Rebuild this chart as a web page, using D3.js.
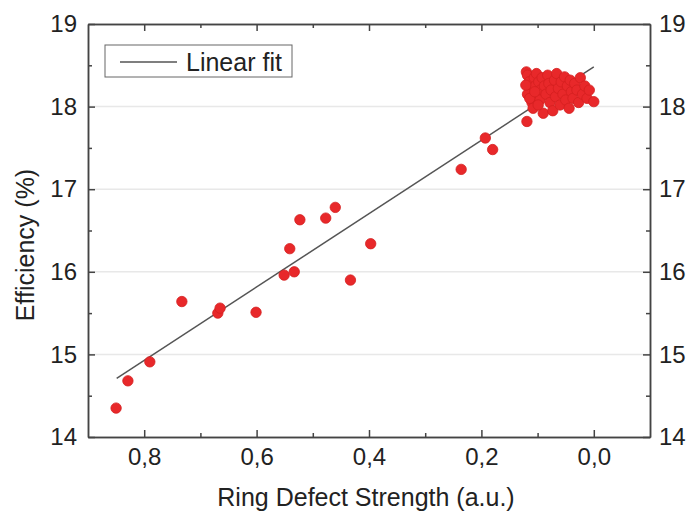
<!DOCTYPE html>
<html>
<head>
<meta charset="utf-8">
<script src="https://cdn.jsdelivr.net/npm/d3@7/dist/d3.min.js"></script>
<style>
  html, body { margin: 0; padding: 0; background: #fff; }
  svg { display: block; }
  text { font-family: "Liberation Sans", Arial, sans-serif; fill: #222; }
</style>
</head>
<body>
<svg id="chart" width="691" height="512"></svg>
<script>
// ---- data ----
const defectStrength = [
  0.850, 0.829, 0.790, 0.733, 0.669, 0.665, 0.601, 0.551, 0.533, 0.541,
  0.523, 0.477, 0.460, 0.433, 0.397, 0.236, 0.193, 0.180, 0.119,
  0.120, 0.118, 0.115, 0.112, 0.118, 0.110, 0.106, 0.104, 0.100, 0.108,
  0.102, 0.098, 0.095, 0.092, 0.096, 0.090, 0.088, 0.085, 0.082, 0.080,
  0.078, 0.076, 0.073, 0.070, 0.068, 0.066, 0.063, 0.060, 0.058, 0.055,
  0.052, 0.050, 0.047, 0.044, 0.042, 0.040, 0.037, 0.034, 0.030, 0.027,
  0.024, 0.020, 0.016, 0.012, 0.008, 0.000, 0.114, 0.105, 0.099, 0.121
];
const efficiency = [
  14.35, 14.68, 14.91, 15.64, 15.50, 15.56, 15.51, 15.96, 16.00, 16.28,
  16.63, 16.65, 16.78, 15.90, 16.34, 17.24, 17.62, 17.48, 17.82,
  18.42, 18.38, 18.30, 18.22, 18.15, 18.05, 18.35, 18.25, 18.12, 17.98,
  18.40, 18.30, 18.20, 18.35, 18.08, 17.92, 18.25, 18.15, 18.38, 18.28,
  18.05, 18.20, 17.95, 18.32, 18.12, 18.40, 18.22, 18.02, 18.30, 18.15,
  18.36, 18.08, 18.25, 17.98, 18.32, 18.18, 18.10, 18.28, 18.20, 18.05,
  18.35, 18.15, 18.25, 18.10, 18.20, 18.06, 18.10, 18.18, 18.02, 18.26
];
const fitX = [0.849, 0.0];
const fitY = [14.71, 18.48];
const xMajorTicks = [0.8, 0.6, 0.4, 0.2, 0.0];
const xMinorTicks = [0.7, 0.5, 0.3, 0.1];
const yMajorTicks = [14, 15, 16, 17, 18, 19];
const yMinorTicks = [14.5, 15.5, 16.5, 17.5, 18.5];
const yGridTicks = [15, 16, 17, 18];
const xDomain = [0.9, -0.1];
const yDomain = [14, 19];
const legendLabel = "Linear fit";
const xTitle = "Ring Defect Strength (a.u.)";
const yTitle = "Efficiency (%)";

// ---- layout ----
const svg = d3.select("#chart");
const L = 88, R = 650, T = 24, B = 437;
const x = d3.scaleLinear().domain(xDomain).range([L, R]);
const y = d3.scaleLinear().domain(yDomain).range([B, T]);
const loc = d3.formatLocale({decimal: ",", thousands: ".", grouping: [3], currency: ["", ""]});
const fx = loc.format(".1f");

// gridlines
svg.append("g").selectAll("line").data(yGridTicks).join("line")
  .attr("x1", L).attr("x2", R)
  .attr("y1", d => y(d)).attr("y2", d => y(d))
  .attr("stroke", "#e8e8e8").attr("stroke-width", 1.5);

// fit line
svg.append("line")
  .attr("x1", x(fitX[0])).attr("y1", y(fitY[0]))
  .attr("x2", x(fitX[1])).attr("y2", y(fitY[1]))
  .attr("stroke", "#555").attr("stroke-width", 1.5);

// points
const pts = defectStrength.map((d, i) => ({x: d, y: efficiency[i]}));
svg.append("g").selectAll("circle").data(pts).join("circle")
  .attr("cx", d => x(d.x)).attr("cy", d => y(d.y)).attr("r", 5.2)
  .attr("fill", "#e8282a").attr("stroke", "#d42020").attr("stroke-width", 0.8);

// axes helper
function styleAxis(g) {
  g.select(".domain").attr("stroke", "#444").attr("stroke-width", 1.5);
  g.selectAll(".tick line").attr("stroke", "#444").attr("stroke-width", 1.5);
  g.selectAll("text").style("font-size", "24px").attr("fill", "#222");
}
const MAJ = 7, MIN = 4;

// bottom
svg.append("g").attr("transform", `translate(0,${B})`)
  .call(d3.axisBottom(x).tickValues(xMajorTicks).tickSizeInner(-MAJ).tickSizeOuter(0).tickPadding(11).tickFormat(fx))
  .call(styleAxis);
svg.append("g").attr("transform", `translate(0,${B})`)
  .call(d3.axisBottom(x).tickValues(xMinorTicks).tickSizeInner(-MIN).tickSizeOuter(0).tickFormat(""))
  .call(styleAxis);
// top
svg.append("g").attr("transform", `translate(0,${T})`)
  .call(d3.axisTop(x).tickValues(xMajorTicks).tickSizeInner(-MAJ).tickSizeOuter(0).tickFormat(""))
  .call(styleAxis);
svg.append("g").attr("transform", `translate(0,${T})`)
  .call(d3.axisTop(x).tickValues(xMinorTicks).tickSizeInner(-MIN).tickSizeOuter(0).tickFormat(""))
  .call(styleAxis);
// left
svg.append("g").attr("transform", `translate(${L},0)`)
  .call(d3.axisLeft(y).tickValues(yMajorTicks).tickSizeInner(-MAJ).tickSizeOuter(0).tickPadding(11).tickFormat(d3.format("d")))
  .call(styleAxis);
svg.append("g").attr("transform", `translate(${L},0)`)
  .call(d3.axisLeft(y).tickValues(yMinorTicks).tickSizeInner(-MIN).tickSizeOuter(0).tickFormat(""))
  .call(styleAxis);
// right
svg.append("g").attr("transform", `translate(${R},0)`)
  .call(d3.axisRight(y).tickValues(yMajorTicks).tickSizeInner(-MAJ).tickSizeOuter(0).tickPadding(9).tickFormat(d3.format("d")))
  .call(styleAxis);
svg.append("g").attr("transform", `translate(${R},0)`)
  .call(d3.axisRight(y).tickValues(yMinorTicks).tickSizeInner(-MIN).tickSizeOuter(0).tickFormat(""))
  .call(styleAxis);

// legend
const lg = svg.append("g");
lg.append("rect").attr("x", 105).attr("y", 45).attr("width", 187).attr("height", 32)
  .attr("fill", "#fff").attr("stroke", "#666").attr("stroke-width", 1);
lg.append("line").attr("x1", 120).attr("x2", 177).attr("y1", 62).attr("y2", 62)
  .attr("stroke", "#555").attr("stroke-width", 1.5);
lg.append("text").attr("x", 186).attr("y", 71).style("font-size", "25px").text(legendLabel);

// titles
svg.append("text").attr("x", 366).attr("y", 506).attr("text-anchor", "middle")
  .style("font-size", "25px").text(xTitle);
svg.append("text").attr("transform", `translate(34,245) rotate(-90)`)
  .attr("text-anchor", "middle").style("font-size", "25px").text(yTitle);
</script>
</body>
</html>
